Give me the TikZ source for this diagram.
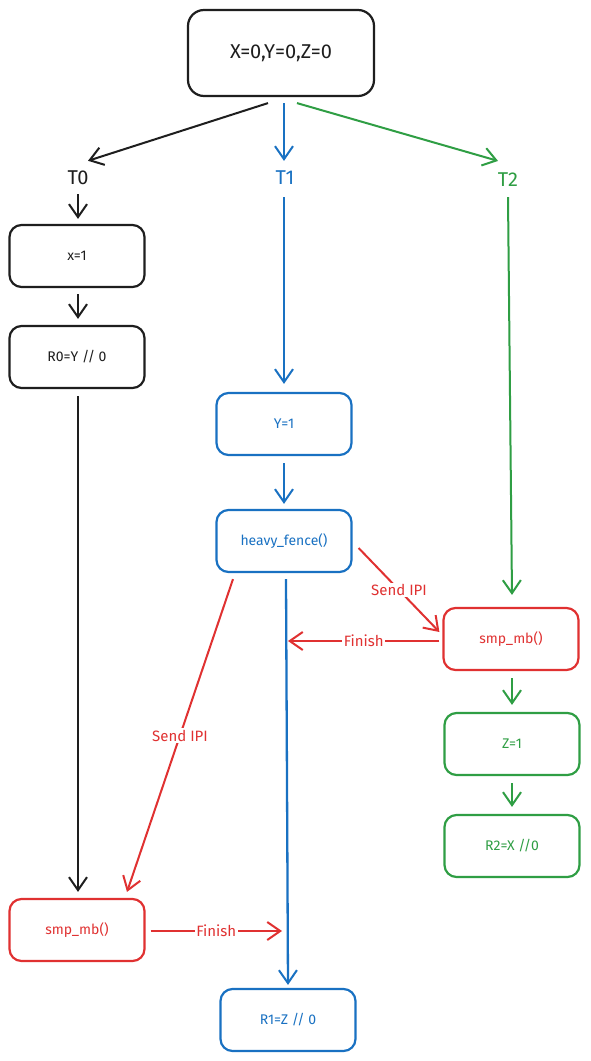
\documentclass[tikz,border=0pt]{standalone}
\usepackage{fontspec}
\setmainfont{Fira Sans}
\usetikzlibrary{arrows.meta}
\definecolor{ink}{HTML}{1E1E1E}
\definecolor{cblue}{HTML}{1971C2}
\definecolor{cgreen}{HTML}{2F9E44}
\definecolor{cred}{HTML}{E03131}
\tikzset{
  box/.style={draw, line width=2.2pt, rounded corners=12pt, minimum width=135pt, minimum height=62pt, font=\fontsize{14}{16}\selectfont, align=center},
  lbl/.style={font=\fontsize{20}{23}\selectfont, inner sep=2pt},
  conn/.style={line width=2pt, -{Straight Barb[length=13pt,width=18pt,line width=2pt]}},
  elbl/.style={fill=white, inner sep=1.5pt, font=\fontsize{15}{17}\selectfont, text=cred}
}
\begin{document}
\begin{tikzpicture}[x=1pt,y=-1pt]
\useasboundingbox[fill=white] (0,0) rectangle (590,1061);
% nodes
\node[box, draw=ink, text=ink, minimum width=186pt, minimum height=86pt, rounded corners=16pt, font=\fontsize{20}{23}\selectfont] (top) at (281,53) {X=0,Y=0,Z=0};
\node[lbl, text=ink] (T0) at (78,178) {T0};
\node[lbl, text=cblue] (T1) at (285,178) {T1};
\node[lbl, text=cgreen] (T2) at (508,180) {T2};
\node[box, draw=ink, text=ink] (x1) at (77,256) {x=1};
\node[box, draw=ink, text=ink] (r0) at (77,357) {R0=Y // 0};
\node[box, draw=cblue, text=cblue] (y1) at (284,424) {Y=1};
\node[box, draw=cblue, text=cblue] (hf) at (284,541) {heavy\_fence()};
\node[box, draw=cred, text=cred] (smpR) at (511,639) {smp\_mb()};
\node[box, draw=cgreen, text=cgreen] (z1) at (512,744) {Z=1};
\node[box, draw=cgreen, text=cgreen] (r2) at (512,846) {R2=X //0};
\node[box, draw=cred, text=cred] (smpL) at (77,930) {smp\_mb()};
\node[box, draw=cblue, text=cblue] (r1) at (288,1020) {R1=Z // 0};
% free ends on the blue T1 line
\coordinate (finR) at (288,641);
\coordinate (finL) at (282,931);
% top fan-out
\draw[conn, draw=ink] ([xshift=-13pt,yshift=-6pt]top.south) -- ([xshift=10pt,yshift=8pt]T0.north);
\draw[conn, draw=cblue] ([xshift=3pt,yshift=-6pt]top.south) -- ([xshift=-1pt,yshift=8pt]T1.north);
\draw[conn, draw=cgreen] ([xshift=16pt,yshift=-6pt]top.south) -- ([xshift=-10pt,yshift=10pt]T2.north);
% T0 column
\draw[conn, draw=ink] ([yshift=-7pt]T0.south) -- ([xshift=1pt,yshift=5pt]x1.north);
\draw[conn, draw=ink] ([xshift=1pt,yshift=-6pt]x1.south) -- ([xshift=1pt,yshift=6pt]r0.north);
\draw[conn, draw=ink, line width=2.6pt] ([xshift=1pt,yshift=-7pt]r0.south) -- ([xshift=1pt,yshift=6pt]smpL.north);
% T1 column
\draw[conn, draw=cblue] ([xshift=-1pt,yshift=-10pt]T1.south) -- ([yshift=8pt]y1.north);
\draw[conn, draw=cblue] ([yshift=-7pt]y1.south) -- ([yshift=5pt]hf.north);
\draw[conn, draw=cblue, line width=2.3pt] ([xshift=2pt,yshift=-6pt]hf.south) -- ([yshift=3pt]r1.north);
% T2 column
\draw[conn, draw=cgreen] ([yshift=-8pt]T2.south) -- ([xshift=1pt,yshift=12pt]smpR.north);
\draw[conn, draw=cgreen] ([xshift=1pt,yshift=-7pt]smpR.south) -- ([yshift=7pt]z1.north);
\draw[conn, draw=cgreen] ([yshift=-7pt]z1.south) -- ([yshift=7pt]r2.north);
% IPIs
\draw[conn, draw=cred] ([xshift=6pt,yshift=-7pt]hf.east) -- node[elbl, pos=0.5] {Send IPI} ([xshift=-3pt,yshift=7pt]smpR.west);
\draw[conn, draw=cred] ([xshift=-3pt,yshift=-2pt]smpR.west) -- node[elbl, pos=0.5] {Finish} (finR);
\draw[conn, draw=cred] ([xshift=-51pt,yshift=-6pt]hf.south) -- node[elbl, pos=0.5] {Send IPI} ([xshift=50pt,yshift=6pt]smpL.north);
\draw[conn, draw=cred] ([xshift=5pt,yshift=-1pt]smpL.east) -- node[elbl, pos=0.5] {Finish} (finL);
\end{tikzpicture}
\end{document}
